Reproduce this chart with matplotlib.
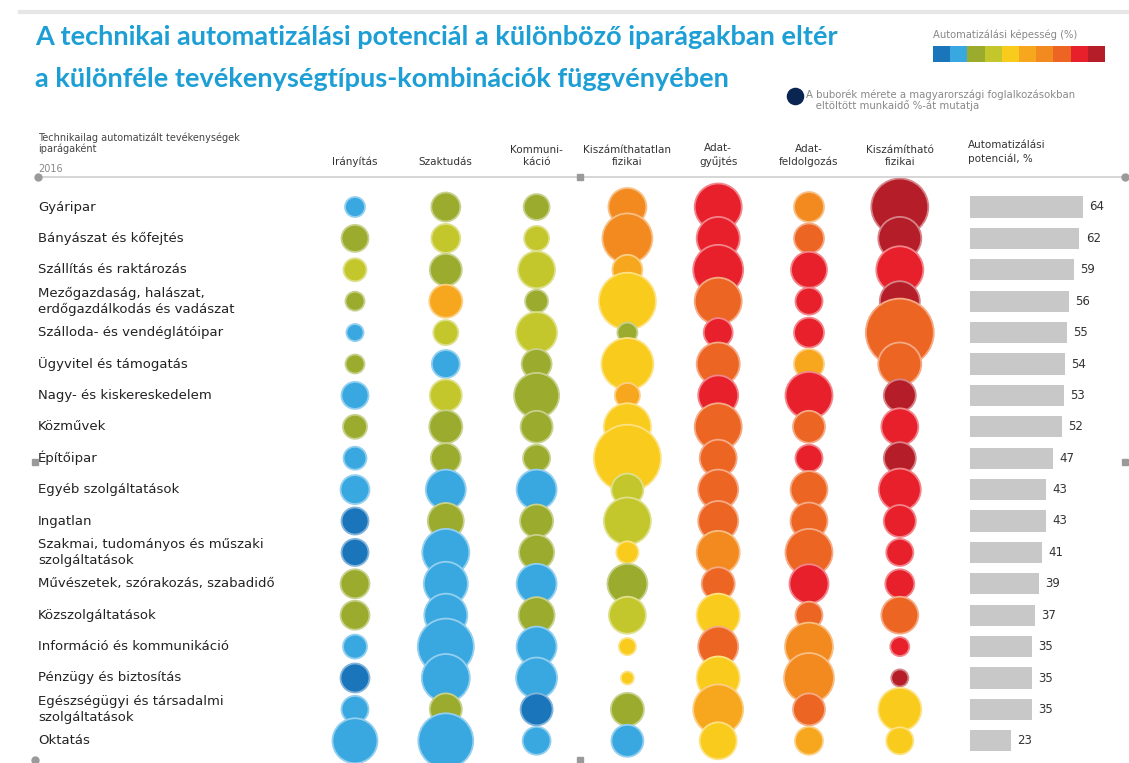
import numpy as np
import matplotlib
matplotlib.use("Agg")
import matplotlib.pyplot as plt
from matplotlib.colors import to_rgb
from matplotlib.lines import Line2D

W, H = 1129, 763

iparagak = [
    "Gyáripar", "Bányászat és kőfejtés", "Szállítás és raktározás",
    "Mezőgazdaság, halászat,\nerdőgazdálkodás és vadászat", "Szálloda- és vendéglátóipar",
    "Ügyvitel és támogatás", "Nagy- és kiskereskedelem", "Közművek", "Építőipar",
    "Egyéb szolgáltatások", "Ingatlan", "Szakmai, tudományos és műszaki\nszolgáltatások",
    "Művészetek, szórakozás, szabadidő", "Közszolgáltatások", "Információ és kommunikáció",
    "Pénzügy és biztosítás", "Egészségügyi és társadalmi\nszolgáltatások", "Oktatás",
]
tevekenysegek = ["Irányítás", "Szaktudás", "Kommuni-\nkáció", "Kiszámíthatatlan\nfizikai",
                 "Adat-\ngyűjtés", "Adat-\nfeldolgozás", "Kiszámítható\nfizikai"]

# munkaidő-arány (%) tevékenységenként, iparágak sorrendjében
ido_iranyitas = [4.1, 7.5, 5.4, 3.7, 3.0, 3.7, 7.5, 5.9, 5.4, 8.6, 7.5, 7.5, 8.6, 8.6, 5.9, 8.6, 7.5, 20.8]
ido_szaktudas = [8.6, 8.6, 10.5, 11.2, 6.4, 8.0, 10.5, 11.2, 9.2, 16.4, 13.3, 22.7, 19.9, 19.0, 32.2, 23.6, 10.5, 31.0]
ido_kommunikacio = [6.9, 6.4, 14.0, 5.4, 17.2, 9.2, 20.8, 10.5, 7.5, 16.4, 11.2, 12.6, 16.4, 13.3, 16.4, 17.2, 10.5, 8.0]
ido_kisz_fizikai = [14.8, 25.6, 9.2, 33.3, 4.1, 27.7, 6.4, 22.7, 46.0, 10.5, 22.7, 5.0, 16.4, 14.0, 3.0, 1.7, 11.2, 10.5]
ido_adatgyujtes = [22.7, 19.0, 25.6, 22.7, 8.6, 19.0, 16.4, 22.7, 14.0, 16.4, 16.4, 19.0, 11.2, 19.0, 16.4, 19.0, 25.6, 14.0]
ido_adatfeldolg = [9.2, 9.2, 13.3, 7.5, 9.2, 9.2, 22.7, 10.5, 7.5, 14.0, 14.0, 22.7, 15.6, 7.5, 23.6, 25.6, 10.5, 8.0]
ido_kiszamithato = [33.3, 19.0, 22.7, 16.4, 47.4, 19.0, 10.5, 14.0, 10.5, 18.1, 10.5, 7.5, 8.6, 14.0, 3.7, 3.0, 19.0, 7.5]

# automatizálási képesség sávja (0 = legkisebb ... 9 = legnagyobb)
kep_iranyitas = [1, 2, 3, 2, 1, 2, 1, 2, 1, 1, 0, 0, 2, 2, 1, 0, 1, 1]
kep_szaktudas = [2, 3, 2, 5, 3, 1, 3, 2, 2, 1, 2, 1, 1, 1, 1, 1, 2, 1]
kep_kommunikacio = [2, 3, 3, 2, 3, 2, 2, 2, 2, 1, 2, 2, 1, 2, 1, 1, 0, 1]
kep_kisz_fizikai = [6, 6, 5, 4, 2, 4, 5, 4, 4, 3, 3, 4, 2, 3, 4, 4, 2, 1]
kep_adatgyujtes = [8, 8, 8, 7, 8, 7, 8, 7, 7, 7, 7, 6, 7, 4, 7, 4, 5, 4]
kep_adatfeldolg = [6, 7, 8, 8, 8, 5, 8, 7, 8, 7, 7, 7, 8, 7, 6, 6, 7, 5]
kep_kiszamithato = [9, 9, 8, 9, 7, 7, 9, 8, 9, 8, 8, 8, 8, 7, 8, 9, 4, 4]

potencial = [64, 62, 59, 56, 55, 54, 53, 52, 47, 43, 43, 41, 39, 37, 35, 35, 35, 23]

skala = ["#1b75bb", "#3aa8e0", "#9aab2e", "#c3c72c", "#f9cb1c",
         "#f7a71d", "#f28a20", "#ec6523", "#e7202b", "#b51d28"]

ido = [ido_iranyitas, ido_szaktudas, ido_kommunikacio, ido_kisz_fizikai,
       ido_adatgyujtes, ido_adatfeldolg, ido_kiszamithato]
kep = [kep_iranyitas, kep_szaktudas, kep_kommunikacio, kep_kisz_fizikai,
       kep_adatgyujtes, kep_adatfeldolg, kep_kiszamithato]


def fpos(x, y):
    return x / W, 1 - y / H


def halvany(c, t=0.45):
    r, g, b = to_rgb(c)
    return (r + (1 - r) * t, g + (1 - g) * t, b + (1 - b) * t)


fig = plt.figure(figsize=(W / 100, H / 100), dpi=100)

# data axes: column index -> x, row index -> y
col0, dcol = 355, 90.8
row0, drow = 207, 31.4
ax = fig.add_axes([0, 0, 1, 1])
ax.set_xlim((0 - col0) / dcol, (W - col0) / dcol)
ax.set_ylim((H - row0) / drow, (0 - row0) / drow)
ax.axis("off")

rows = np.arange(len(iparagak))
for j in range(len(tevekenysegek)):
    cols = [skala[k] for k in kep[j]]
    edges = [halvany(c) for c in cols]
    ax.scatter(np.full(len(rows), j), rows, s=np.array(ido[j]) * 50.5,
               c=cols, edgecolors=edges, linewidths=1.3, zorder=3)

for r, name in enumerate(iparagak):
    ax.text((38 - col0) / dcol, r, name, ha="left", va="center", fontsize=9.5,
            color="#222222", linespacing=1.25)

for j, name in enumerate(tevekenysegek):
    ax.text(j, (167 - row0) / drow, name, ha="center", va="bottom", fontsize=7.5,
            color="#333333", linespacing=1.3)

# bar axes
bx = fig.add_axes([970 / W, 0, (W - 970) / W, 1])
bx.set_xlim(0, (W - 970) / 1.766)
bx.set_ylim(ax.get_ylim())
bx.axis("off")
bx.barh(rows, potencial, height=0.68, color="#c8c8c8", zorder=2)
for r, v in enumerate(potencial):
    bx.text(v + 3.5, r, str(v), ha="left", va="center", fontsize=8.5, color="#333333")

# title and texts
tcol = "#1d9fd6"
fig.text(*fpos(35, 37), "A technikai automatizálási potenciál a különböző iparágakban eltér",
         fontsize=19.5, fontweight="bold", color=tcol, family="Lato", va="center")
fig.text(*fpos(35, 79), "a különféle tevékenységtípus-kombinációk függvényében",
         fontsize=19.5, fontweight="bold", color=tcol, family="Lato", va="center")

fig.text(*fpos(38, 143), "Technikailag automatizált tevékenységek\niparágaként", fontsize=7,
         color="#444444", va="center", linespacing=1.1)
fig.text(*fpos(38, 169), "2016", fontsize=7, color="#888888", va="center")
fig.text(*fpos(968, 152), "Automatizálási\npotenciál, %", fontsize=7.5, color="#333333",
         va="center", linespacing=1.3)

fig.text(*fpos(933, 35), "Automatizálási képesség (%)", fontsize=7.2, color="#888888", va="center")
lx = fig.add_axes([933 / W, 1 - 62 / H, 172 / W, 16 / H])
lx.bar(np.arange(10), np.ones(10), width=1.0, color=skala)
lx.set_xlim(-0.5, 9.5)
lx.set_ylim(0, 1)
lx.axis("off")

ax.scatter([(795 - col0) / dcol], [(96 - row0) / drow], s=135, color="#0b2553", zorder=3)
fig.text(*fpos(806, 100), "A buborék mérete a magyarországi foglalkozásokban\n   eltöltött munkaidő %-át mutatja",
         fontsize=7.3, color="#888888", va="center", linespacing=1.05)

# separator lines and frame handles
fig.add_artist(Line2D([20 / W, 1], [1 - 12 / H] * 2, color="#e6e6e6", lw=3))
fig.add_artist(Line2D([38 / W, 1125 / W], [1 - 177 / H] * 2, color="#cfcfcf", lw=1.2))
for (hx, hy, m) in [(38, 177, "o"), (580, 177, "s"), (1125, 177, "o"),
                    (35, 462, "s"), (1125, 462, "s"), (35, 760, "o"), (580, 760, "s")]:
    fig.add_artist(Line2D([hx / W], [1 - hy / H], marker=m, markersize=5,
                          color="#9a9a9a", linestyle="none"))

fig.savefig("out.png", dpi=100, facecolor="white")
